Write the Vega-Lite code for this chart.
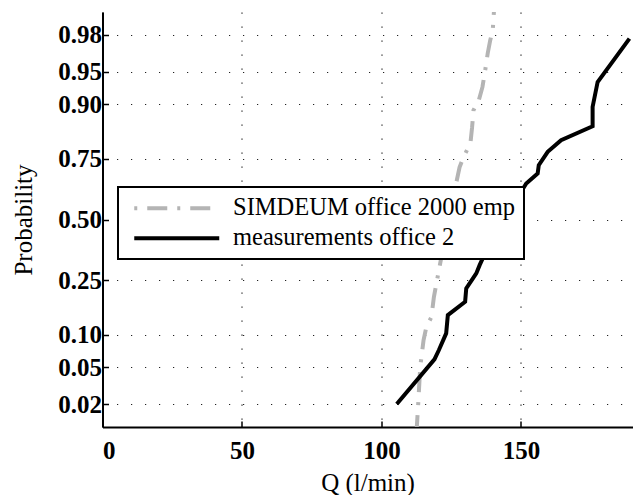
{
  "$schema": "https://vega.github.io/schema/vega-lite/v6.json",
  "autosize": {"type": "none"},
  "padding": {"left": 102.5, "top": 12, "right": 7.5, "bottom": 68},
  "width": 530,
  "height": 415,
  "data": {
    "values": [
      {"series": "SIMDEUM office 2000 emp", "i": 1, "q": 112.5, "z": -2.40},
      {"series": "SIMDEUM office 2000 emp", "i": 2, "q": 113.2, "z": -2.043},
      {"series": "SIMDEUM office 2000 emp", "i": 3, "q": 113.9, "z": -1.642},
      {"series": "SIMDEUM office 2000 emp", "i": 4, "q": 115.1, "z": -1.342},
      {"series": "SIMDEUM office 2000 emp", "i": 5, "q": 116.1, "z": -1.197},
      {"series": "SIMDEUM office 2000 emp", "i": 6, "q": 117.9, "z": -1.086},
      {"series": "SIMDEUM office 2000 emp", "i": 7, "q": 118.8, "z": -0.864},
      {"series": "SIMDEUM office 2000 emp", "i": 8, "q": 120.8, "z": -0.530},
      {"series": "SIMDEUM office 2000 emp", "i": 9, "q": 123.7, "z": -0.06},
      {"series": "SIMDEUM office 2000 emp", "i": 10, "q": 126.8, "z": 0.405},
      {"series": "SIMDEUM office 2000 emp", "i": 11, "q": 128.0, "z": 0.582},
      {"series": "SIMDEUM office 2000 emp", "i": 12, "q": 129.4, "z": 0.694},
      {"series": "SIMDEUM office 2000 emp", "i": 13, "q": 131.9, "z": 0.850},
      {"series": "SIMDEUM office 2000 emp", "i": 14, "q": 132.5, "z": 1.028},
      {"series": "SIMDEUM office 2000 emp", "i": 15, "q": 133.0, "z": 1.217},
      {"series": "SIMDEUM office 2000 emp", "i": 16, "q": 134.9, "z": 1.328},
      {"series": "SIMDEUM office 2000 emp", "i": 17, "q": 136.2, "z": 1.473},
      {"series": "SIMDEUM office 2000 emp", "i": 18, "q": 137.2, "z": 1.662},
      {"series": "SIMDEUM office 2000 emp", "i": 19, "q": 138.1, "z": 1.851},
      {"series": "SIMDEUM office 2000 emp", "i": 20, "q": 139.0, "z": 1.996},
      {"series": "SIMDEUM office 2000 emp", "i": 21, "q": 139.9, "z": 2.107},
      {"series": "SIMDEUM office 2000 emp", "i": 22, "q": 140.5, "z": 2.40},
      {"series": "measurements office 2", "i": 1, "q": 105.5, "z": -2.054},
      {"series": "measurements office 2", "i": 2, "q": 119.0, "z": -1.557},
      {"series": "measurements office 2", "i": 3, "q": 120.6, "z": -1.453},
      {"series": "measurements office 2", "i": 4, "q": 123.2, "z": -1.268},
      {"series": "measurements office 2", "i": 5, "q": 123.8, "z": -1.064},
      {"series": "measurements office 2", "i": 6, "q": 130.0, "z": -0.916},
      {"series": "measurements office 2", "i": 7, "q": 130.4, "z": -0.767},
      {"series": "measurements office 2", "i": 8, "q": 132.8, "z": -0.656},
      {"series": "measurements office 2", "i": 9, "q": 134.0, "z": -0.600},
      {"series": "measurements office 2", "i": 10, "q": 135.2, "z": -0.508},
      {"series": "measurements office 2", "i": 11, "q": 136.3, "z": -0.433},
      {"series": "measurements office 2", "i": 12, "q": 144.0, "z": 0.0},
      {"series": "measurements office 2", "i": 13, "q": 151.9, "z": 0.401},
      {"series": "measurements office 2", "i": 14, "q": 156.0, "z": 0.512},
      {"series": "measurements office 2", "i": 15, "q": 156.4, "z": 0.605},
      {"series": "measurements office 2", "i": 16, "q": 159.6, "z": 0.753},
      {"series": "measurements office 2", "i": 17, "q": 164.4, "z": 0.883},
      {"series": "measurements office 2", "i": 18, "q": 175.7, "z": 1.038},
      {"series": "measurements office 2", "i": 19, "q": 175.7, "z": 1.253},
      {"series": "measurements office 2", "i": 20, "q": 177.5, "z": 1.531},
      {"series": "measurements office 2", "i": 21, "q": 188.9, "z": 2.013}
    ]
  },
  "encoding": {
    "x": {
      "field": "q", "type": "quantitative",
      "scale": {"domain": [0, 190], "nice": false, "zero": false},
      "axis": {"values": [0, 50, 100, 150], "title": "Q (l/min)", "labelPadding": 17, "titlePadding": 7}
    },
    "y": {
      "field": "z", "type": "quantitative",
      "scale": {"domain": [-2.31, 2.31], "nice": false, "zero": false},
      "axis": {
        "values": [-2.054, -1.645, -1.2816, -0.6745, 0, 0.6745, 1.2816, 1.645, 2.054],
        "labelExpr": "datum.value < -2 ? '0.02' : datum.value < -1.5 ? '0.05' : datum.value < -1 ? '0.10' : datum.value < -0.5 ? '0.25' : datum.value < 0.5 ? '0.50' : datum.value < 1 ? '0.75' : datum.value < 1.5 ? '0.90' : datum.value < 2 ? '0.95' : '0.98'",
        "title": "Probability", "labelPadding": 7, "titlePadding": 21
      }
    },
    "order": {"field": "i", "type": "quantitative"},
    "color": {
      "field": "series", "type": "nominal",
      "scale": {"domain": ["SIMDEUM office 2000 emp", "measurements office 2"], "range": ["#b4b4b4", "#000000"]},
      "legend": {
        "title": null, "orient": "none", "legendX": 15.5, "legendY": 175,
        "symbolType": "M-8.5,0L8.5,0", "symbolSize": 100, "symbolStrokeWidth": 4,
        "symbolOffset": 37.5, "labelOffset": 44,
        "labelFont": "Liberation Serif", "labelFontSize": 24.5, "labelColor": "black",
        "strokeColor": "black", "fillColor": "white",
        "padding": 9, "rowPadding": 5, "labelLimit": 400,
        "encode": {
          "legend": {"update": {"strokeWidth": {"value": 2}}},
          "symbols": {
            "update": {
              "strokeDash": {"signal": "datum.label == 'SIMDEUM office 2000 emp' ? [3, 10, 20, 10] : [1, 0]"}
            }
          }
        }
      }
    }
  },
  "layer": [
    {
      "transform": [{"filter": "datum.series == 'SIMDEUM office 2000 emp'"}],
      "mark": {"type": "line", "clip": true, "strokeWidth": 4, "strokeCap": "butt", "strokeDash": [20, 10, 3, 10]}
    },
    {
      "transform": [{"filter": "datum.series == 'measurements office 2'"}],
      "mark": {"type": "line", "clip": true, "strokeWidth": 4, "strokeCap": "butt", "strokeJoin": "miter"}
    }
  ],
  "config": {
    "view": {"stroke": null},
    "axis": {
      "domainColor": "black", "domainWidth": 2,
      "grid": true, "gridDash": [1.2, 12.8], "gridColor": "#222", "gridWidth": 1.2,
      "tickColor": "black", "tickSize": -6, "tickWidth": 1.5,
      "labelFont": "Liberation Serif", "labelFontSize": 25, "labelFontWeight": "bold", "labelColor": "black",
      "titleFont": "Liberation Serif", "titleFontSize": 25, "titleFontWeight": "normal", "titleColor": "black"
    }
  }
}
